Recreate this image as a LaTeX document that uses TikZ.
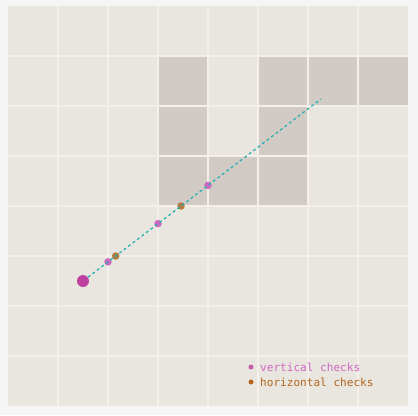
\documentclass[tikz,border=0pt]{standalone}
\usepackage{xcolor}
\usepackage{fontspec}
\setmonofont{DejaVu Sans Mono}
\definecolor{pagegray}{RGB}{245, 245, 245}
\definecolor{cellbeige}{RGB}{233, 229, 223}
\definecolor{gridcream}{RGB}{244, 240, 233}
\definecolor{wallgray}{RGB}{210, 203, 197}
\definecolor{raycyan}{RGB}{30, 176, 178}
\definecolor{startmagenta}{RGB}{190, 64, 160}
\definecolor{vertpink}{RGB}{206, 104, 192}
\definecolor{horbrown}{RGB}{178, 122, 62}
\definecolor{legendbrown}{RGB}{180, 102, 30}
\usetikzlibrary{positioning}

\begin{document}
\begin{tikzpicture}[
    x=1cm, y=-1cm,
    wall/.style={fill=wallgray},
    check/.style={circle, inner sep=0pt, minimum size=0.15cm},
    vcheck/.style={check, fill=vertpink},
    hcheck/.style={check, fill=horbrown},
    keydot/.style={circle, inner sep=0pt, minimum size=0.1cm},
    keytext/.style={font=\ttfamily\fontsize{6.3}{7}\selectfont, inner sep=0pt, anchor=west}
]
    % Page and grid
    \fill[pagegray] (-0.16, -0.12) rectangle (8.2, 8.18);
    \fill[cellbeige] (0, 0) rectangle (8, 8);

    % Walls
    \fill[wall] (3, 1) rectangle (4, 2);
    \fill[wall] (5, 1) rectangle (6, 2);
    \fill[wall] (6, 1) rectangle (7, 2);
    \fill[wall] (7, 1) rectangle (8, 2);
    \fill[wall] (3, 2) rectangle (4, 3);
    \fill[wall] (5, 2) rectangle (6, 3);
    \fill[wall] (3, 3) rectangle (4, 4);
    \fill[wall] (4, 3) rectangle (5, 4);
    \fill[wall] (5, 3) rectangle (6, 4);

    \foreach \k in {1,...,7} {
        \draw[gridcream, line width=1.1pt] (\k, 0) -- (\k, 8);
        \draw[gridcream, line width=1.1pt] (0, \k) -- (8, \k);
    }

    % Ray and its checks
    \node[check, fill=startmagenta, minimum size=0.24cm] (start) at (1.5, 5.5) {};
    \node[vcheck] (v1) at (2, 5.117) {};
    \node[vcheck] (v2) at (3, 4.352) {};
    \node[vcheck] (v3) at (4, 3.587) {};
    \node[hcheck] (h1) at (2.154, 5) {};
    \node[hcheck] (h2) at (3.461, 4) {};
    \coordinate (rayend) at (6.26, 1.86);
    \draw[raycyan, line width=0.7pt, dash pattern=on 1.6pt off 1.6pt] (start) -- (rayend);

    % Legend
    \node[keydot, fill=startmagenta!85] (vdot) at (4.86, 7.22) {};
    \node[keytext, text=vertpink, right=0.12cm of vdot] (vkey) {vertical checks};
    \node[keydot, fill=legendbrown] (hdot) at (4.86, 7.52) {};
    \node[keytext, text=legendbrown, right=0.12cm of hdot] (hkey) {horizontal checks};
\end{tikzpicture}
\end{document}
